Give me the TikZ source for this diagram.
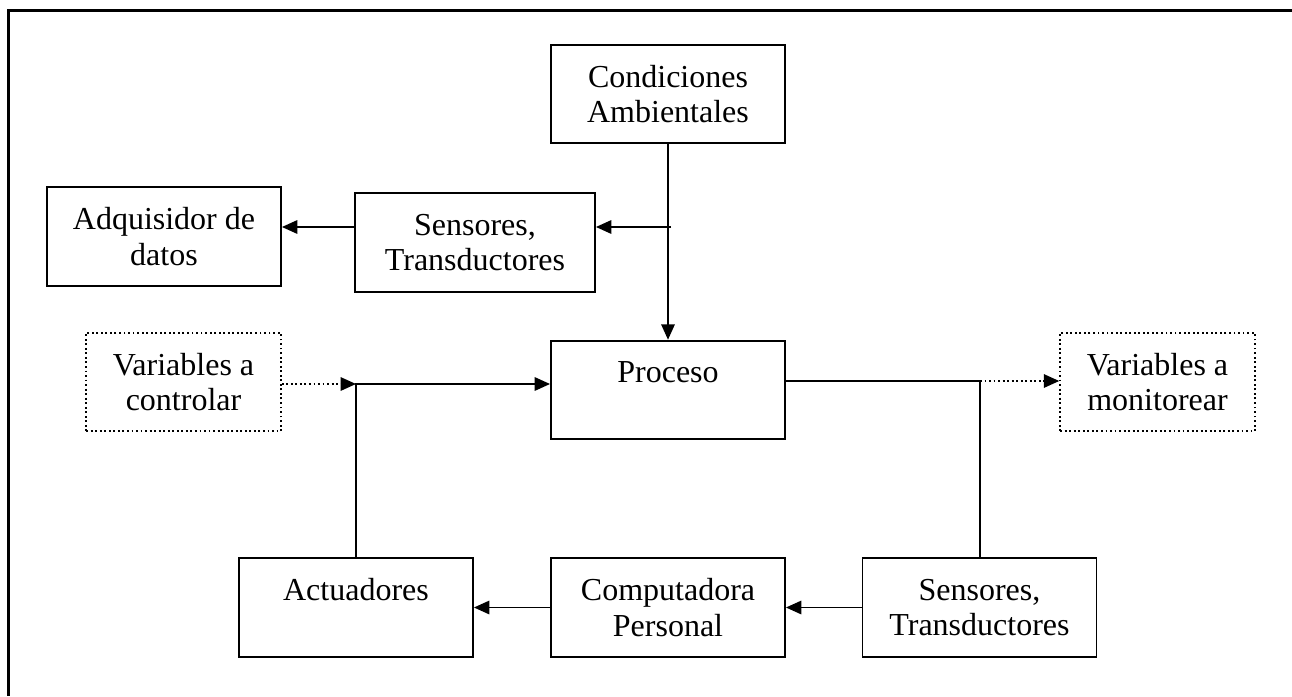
\documentclass[tikz,border=0pt]{standalone}
\usepackage{fontspec}
\setmainfont{Liberation Serif}
\usetikzlibrary{arrows.meta,positioning}

\begin{document}
\begin{tikzpicture}[x=0.75pt,y=-0.75pt,>={Triangle[length=11.5pt,width=10pt]},line width=1.4pt,
	bloque/.style={draw,line width=1.4pt,minimum width=175.5pt,minimum height=74pt,inner sep=0pt,align=center,font=\fontsize{24}{26.5}\selectfont},
	punteado/.style={bloque,dotted,minimum width=146pt}]
		
		\useasboundingbox (0,0) rectangle (1292,696);
		\draw[line width=2.25pt] (1292,10) -- (8,10) -- (8,696);
		
		\node[bloque] (cond) at (668,94) {Condiciones\\Ambientales};
		\node[bloque, minimum width=180pt] (sens1) at (475,242.5) {Sensores,\\Transductores};
		\node[bloque] (adq) at (164,236.5) {Adquisidor de\\datos};
		\node[bloque] (proc) at (668,390) {Proceso\\~};
		\node[punteado] (varc) at (183.5,382) {Variables a\\controlar};
		\node[punteado] (varm) at (1157.5,382) {Variables a\\monitorear};
		\node[bloque] (act) at (356,607.5) {Actuadores\\~};
		\node[bloque] (comp) at (668,607.5) {Computadora\\Personal};
		\node[bloque] (sens2) at (979.5,607.5) {Sensores,\\Transductores};
		
		\coordinate (rama) at (671,227);
		\coordinate (izq) at (356,384);
		\coordinate (der) at (980,381);
		
		\draw[->] (cond.south) -- (proc.north);
		\draw[->] (rama) -- (rama -| sens1.east);
		\draw[->] (sens1.west |- rama) -- (adq.east |- rama);
		
		\draw[->, dotted] (varc.east |- izq) -- (izq);
		\draw[->] (act.north) -- (izq) -- (izq -| proc.west);
		\draw (proc.east |- der) -- (der) -- (der |- sens2.north);
		\draw[->, dotted] (der) -- (der -| varm.west);
		
		\draw[->] (sens2.west) -- (comp.east);
		\draw[->] (comp.west) -- (act.east);
		
\end{tikzpicture}
\end{document}
